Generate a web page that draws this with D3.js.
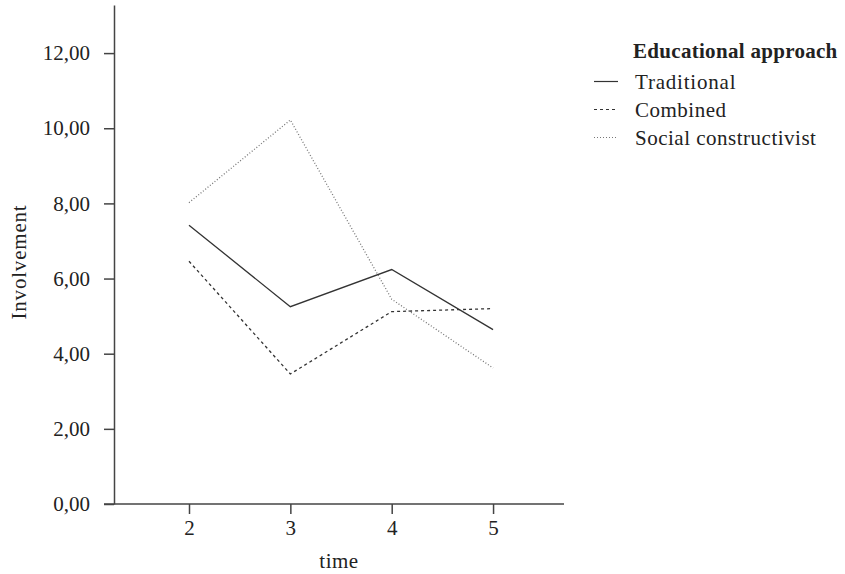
<!DOCTYPE html>
<html><head><meta charset="utf-8">
<script src="https://cdn.jsdelivr.net/npm/d3@7"></script>
<style>body{margin:0;background:#fff}svg{display:block}</style>
</head><body>
<script>
const times = [2, 3, 4, 5];
const traditional = [7.42, 5.25, 6.24, 4.64];
const combined = [6.46, 3.46, 5.12, 5.20];
const socialConstructivist = [8.02, 10.22, 5.45, 3.62];
const seriesNames = ["Traditional", "Combined", "Social constructivist"];
const yTicks = [0, 2, 4, 6, 8, 10, 12];
const legendTitle = "Educational approach";

const W = 845, H = 574;
const svg = d3.select("body").append("svg").attr("width", W).attr("height", H);
const font = "'Liberation Serif', 'DejaVu Serif', serif";
const fs = 21, ls = 0.5, txt = "#222";

const x = d3.scaleLinear().domain([1.26, 5.70]).range([114, 564]);
const y = d3.scaleLinear().domain([0, 13.28]).range([504, 5]);

const axisColor = "#444";
// y axis
const ya = svg.append("g").attr("transform", "translate(114,0)")
  .call(d3.axisLeft(y).tickValues(yTicks).tickSize(10).tickPadding(14)
    .tickFormat(d => d3.format(".2f")(d).replace(".", ",")).tickSizeOuter(0));
ya.select(".domain").attr("stroke", axisColor).attr("stroke-width", 1.5);
ya.selectAll(".tick line").attr("stroke", axisColor).attr("stroke-width", 1.5);
ya.selectAll(".tick text").attr("font-family", font).attr("font-size", fs).attr("fill", txt);

// x axis
const xa = svg.append("g").attr("transform", "translate(0,504)")
  .call(d3.axisBottom(x).tickValues(times).tickSize(10).tickPadding(6)
    .tickFormat(d3.format("d")).tickSizeOuter(0));
xa.select(".domain").attr("d", "M104,0H564").attr("stroke", axisColor).attr("stroke-width", 1.5);
xa.selectAll(".tick line").attr("stroke", axisColor).attr("stroke-width", 1.5);
xa.selectAll(".tick text").attr("font-family", font).attr("font-size", fs).attr("fill", txt);

svg.append("text").attr("x", 339).attr("y", 568).attr("text-anchor", "middle")
  .attr("font-family", font).attr("font-size", fs).attr("letter-spacing", ls).attr("fill", txt).text("time");
svg.append("text").attr("transform", "translate(26,262) rotate(-90)").attr("text-anchor", "middle")
  .attr("font-family", font).attr("font-size", fs).attr("letter-spacing", 0.8).attr("fill", txt).text("Involvement");

const styles = [
  {stroke: "#333", dash: null, w: 1.3},
  {stroke: "#333", dash: "3,3", w: 1.3},
  {stroke: "#777", dash: "1,2", w: 1.3}
];
const allSeries = [traditional, combined, socialConstructivist];
const line = d3.line().x((d, i) => x(times[i])).y(d => y(d));
allSeries.forEach((s, k) => {
  svg.append("path").datum(s).attr("d", line).attr("fill", "none")
    .attr("stroke", styles[k].stroke).attr("stroke-width", styles[k].w)
    .attr("stroke-dasharray", styles[k].dash);
});

// legend
svg.append("text").attr("x", 633).attr("y", 58).attr("font-family", font).attr("font-size", fs)
  .attr("font-weight", "bold").attr("letter-spacing", 0.3).attr("fill", txt).text(legendTitle);
seriesNames.forEach((n, k) => {
  const yy = 88.5 + k * 28;
  svg.append("line").attr("x1", 594).attr("x2", 618).attr("y1", yy - 7).attr("y2", yy - 7)
    .attr("stroke", styles[k].stroke).attr("stroke-width", 1.2).attr("stroke-dasharray", styles[k].dash);
  svg.append("text").attr("x", 635).attr("y", yy).attr("font-family", font).attr("font-size", fs)
    .attr("letter-spacing", k === 0 ? 0.8 : ls).attr("fill", txt).text(n);
});
</script>
</body></html>
